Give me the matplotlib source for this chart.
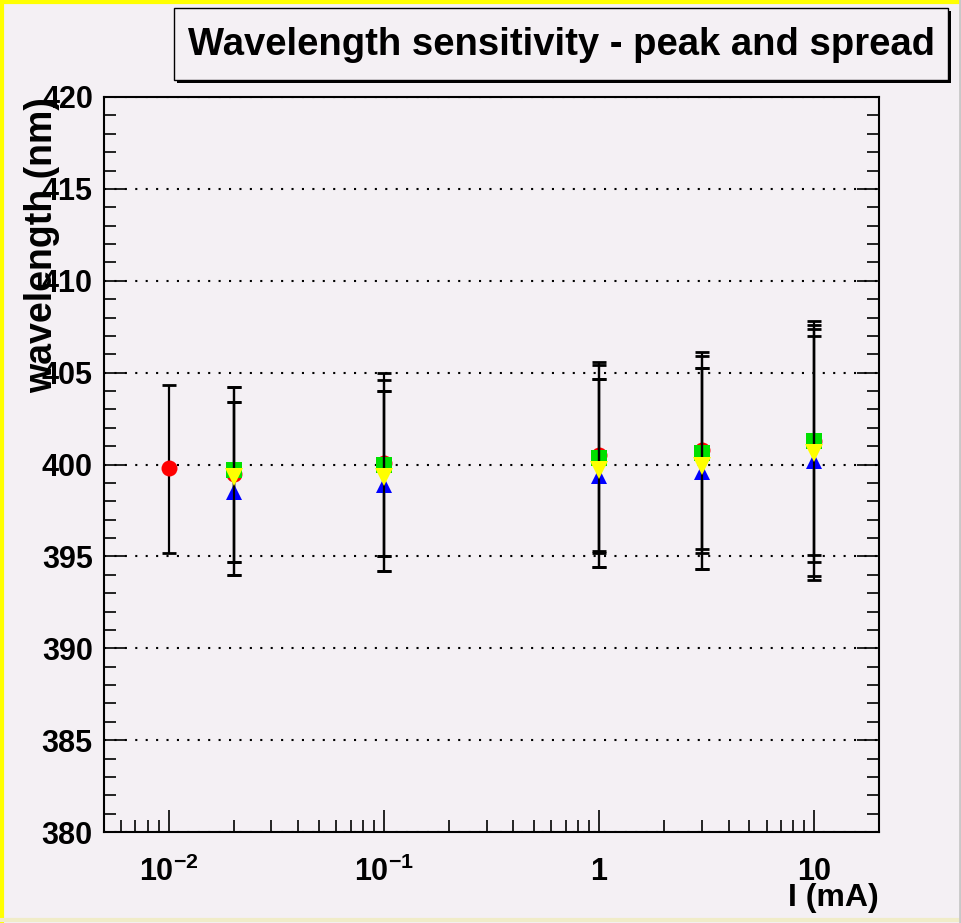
import matplotlib.pyplot as plt
from matplotlib.patches import Rectangle
from matplotlib.lines import Line2D

plt.rcParams['font.family'] = ['Liberation Sans', 'DejaVu Sans']
plt.rcParams['font.weight'] = 'bold'
plt.rcParams['mathtext.fontset'] = 'custom'
plt.rcParams['mathtext.rm'] = 'Liberation Sans:bold'
plt.rcParams['mathtext.default'] = 'rm'

# current values (mA)
xRed = [0.01, 0.02, 0.1, 1, 3, 10]
x = [0.02, 0.1, 1, 3, 10]

# peak wavelength (nm) and spread ends
red = [399.8, 399.5, 400.1, 400.5, 400.8, 401.3]
redLo = [395.2, 394.7, 395.0, 395.3, 395.4, 395.1]
redHi = [404.3, 404.2, 405.0, 405.6, 406.1, 407.8]

green = [399.7, 400.0, 400.35, 400.65, 401.3]
greenLo = [394.0, 394.2, 395.2, 395.2, 394.7]
greenHi = [404.2, 404.6, 405.4, 405.9, 407.6]

blue = [398.5, 398.9, 399.4, 399.6, 400.2]
blueLo = [394.7, 395.0, 394.4, 394.3, 393.7]
blueHi = [403.4, 404.0, 404.65, 405.25, 407.0]

yellow = [399.3, 399.3, 399.7, 399.9, 400.6]
yellowLo = [394.0, 394.2, 394.4, 394.3, 393.95]
yellowHi = [403.4, 404.0, 404.65, 405.25, 407.4]

bg = '#f4f0f4'

fig = plt.figure(figsize=(9.61, 9.23), dpi=100, facecolor=bg)
ax = fig.add_axes([104/961, 1-832/923, (879-104)/961, (832-97)/923])
ax.set_facecolor(bg)

series = [
    (xRed, red, redLo, redHi, 'o', '#ff0000', 11.5),
    (x, green, greenLo, greenHi, 's', '#00e000', 12),
    (x, blue, blueLo, blueHi, '^', '#0000ff', 11),
    (x, yellow, yellowLo, yellowHi, 'v', '#ffff00', 13.5),
]
z = 3
for xs, ys, lo, hi, m, c, ms in series:
    errs = [[ys[i]-lo[i] for i in range(len(ys))], [hi[i]-ys[i] for i in range(len(ys))]]
    ax.errorbar(xs, ys, yerr=errs, fmt='none', ecolor='black', elinewidth=1.6,
                capsize=5, capthick=2, zorder=z)
    ax.plot(xs, ys, linestyle='none', marker=m, color=c, markersize=ms,
            markeredgewidth=0, zorder=z+1)
    z += 2

ax.set_xscale('log')
ax.set_xlim(0.005, 20)
ax.set_ylim(380, 420)
ax.set_yticks(range(380, 421, 5))
ax.set_yticks(range(380, 421, 1), minor=True)
ax.set_xticks([0.01, 0.1, 1, 10])
ax.set_xticklabels([r'$10^{-2}$', r'$10^{-1}$', '1', '10'])

ax.tick_params(axis='both', which='both', direction='in', colors='black',
               labelsize=22, width=1.2)
ax.tick_params(axis='y', which='both', left=True, right=True)
ax.tick_params(axis='both', which='major', length=16)
ax.tick_params(axis='both', which='minor', length=8.5)
ax.tick_params(axis='x', pad=18)
ax.tick_params(axis='y', pad=8)
for lab in ax.get_yticklabels() + ax.get_xticklabels():
    lab.set_fontweight('bold')

ax.grid(axis='y', which='major', color='black', linestyle=(0, (1, 4)), linewidth=1.5)
ax.set_axisbelow(True)
for s in ax.spines.values():
    s.set_linewidth(1.5)

# ROOT style: axis titles overlap the tick labels
ax.set_ylabel('wavelength (nm)', fontsize=27, fontweight='bold', loc='top', labelpad=-13)
ax.set_xlabel('I (mA)', fontsize=23, fontweight='bold', loc='right', labelpad=-4)

# title box with shadow
fig.patches.append(Rectangle((177/961, 1-83/923), 774/961, 72/923, transform=fig.transFigure,
                             facecolor='black', edgecolor='none', zorder=1))
fig.patches.append(Rectangle((174/961, 1-80/923), 774/961, 72/923, transform=fig.transFigure,
                             facecolor=bg, edgecolor='black', linewidth=1, zorder=2))
fig.text(561/961, 1-45/923, 'Wavelength sensitivity - peak and spread', ha='center', va='center',
         fontsize=27.5, fontweight='bold', zorder=3)

# canvas border
fig.lines.append(Line2D([0, 1], [1-1.5/923, 1-1.5/923], transform=fig.transFigure, color='#ffff00', linewidth=3))
fig.lines.append(Line2D([1.5/961, 1.5/961], [0, 1], transform=fig.transFigure, color='#ffff00', linewidth=3))
fig.lines.append(Line2D([0, 1], [3/923, 3/923], transform=fig.transFigure, color='#f0ecc8', linewidth=3))
fig.lines.append(Line2D([1-1.5/961, 1-1.5/961], [0, 1], transform=fig.transFigure, color='#c8c8c8', linewidth=2))

fig.savefig('out.png', dpi=100, facecolor=bg)
